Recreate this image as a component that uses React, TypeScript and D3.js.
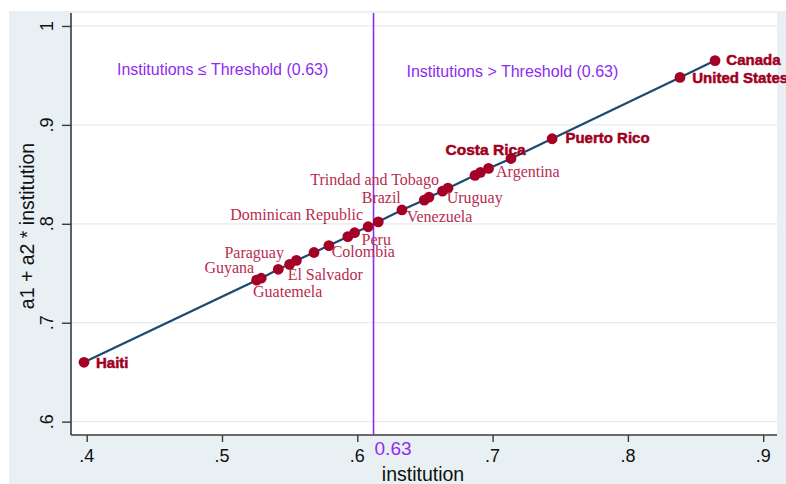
import { useEffect, useRef } from 'react'
import * as d3 from 'd3'

// Countries (empty name = unlabelled point)
const countries = [
  'Haiti', 'Guatemela', 'Guyana', 'Paraguay', 'El Salvador', '', 'Colombia', '', '',
  'Peru', 'Dominican Republic', 'Brazil', 'Venezuela', 'Trindad and Tobago', '',
  'Uruguay', '', '', '', 'Argentina', 'Costa Rica', 'Puerto Rico', 'United States', 'Canada',
]
const institution = [
  0.398, 0.5256, 0.529, 0.5416, 0.55, 0.555, 0.568, 0.579, 0.593,
  0.598, 0.608, 0.6155, 0.633, 0.6495, 0.653,
  0.663, 0.667, 0.687, 0.691, 0.697, 0.7136, 0.744, 0.8385, 0.8644,
]
const fitted = [
  0.66, 0.743, 0.745, 0.754, 0.759, 0.763, 0.771, 0.778, 0.787,
  0.791, 0.797, 0.802, 0.814, 0.824, 0.827,
  0.833, 0.836, 0.849, 0.852, 0.856, 0.866, 0.886, 0.948, 0.965,
]
const xTicks = [0.4, 0.5, 0.6, 0.7, 0.8, 0.9]
const yTicks = [0.6, 0.7, 0.8, 0.9, 1]
const thresholdPos = 0.612
const thresholdLabel = '0.63'

// bold sans labels (the others are serif)
const boldLabels = ['Haiti', 'Costa Rica', 'Puerto Rico', 'United States', 'Canada']

// label placement relative to its point: [dx, dy, anchor]
const labelPlace: Record<string, [number, number, string]> = {
  Haiti: [12, 5.5, 'start'],
  Guatemela: [-3.6, 17, 'start'],
  Guyana: [-7, -5, 'end'],
  Paraguay: [5.7, -11, 'end'],
  'El Salvador': [-2, 15.6, 'start'],
  Colombia: [17.7, 4.5, 'start'],
  Peru: [7, 12.3, 'start'],
  'Dominican Republic': [-5, -7, 'end'],
  Brazil: [3, -19, 'middle'],
  Venezuela: [4.7, 11.7, 'start'],
  'Trindad and Tobago': [14.7, -15, 'end'],
  Uruguay: [4.2, 12, 'start'],
  Argentina: [7.5, 8.3, 'start'],
  'Costa Rica': [14.7, -3.5, 'end'],
  'Puerto Rico': [13.3, 4.3, 'start'],
  'United States': [12.3, 5.6, 'start'],
  Canada: [11.3, 4.4, 'start'],
}

const W = 786
const H = 484
const sans = 'Arial, "Liberation Sans", Helvetica, sans-serif'
const serif = '"Liberation Serif", "Times New Roman", serif'
const purple = '#8e2cf0'

export default function App() {
  const svgRef = useRef<SVGSVGElement>(null)

  useEffect(() => {
    if (!svgRef.current) return
    const svg = d3.select(svgRef.current)
    svg.selectAll('*').remove()

    const plot = { left: 71, right: 777, top: 13, bottom: 435 }

    const x = d3.scaleLinear().domain([0.3884, 0.9102]).range([plot.left, plot.right])
    const y = d3.scaleLinear().domain([0.5865, 1.0131]).range([plot.bottom, plot.top])

    // Backgrounds
    svg.append('rect').attr('width', W).attr('height', H).attr('fill', '#ffffff')
    svg.append('rect').attr('x', 9).attr('y', 11).attr('width', W - 9).attr('height', H - 11).attr('fill', '#e8f0f3')
    svg
      .append('rect')
      .attr('x', plot.left)
      .attr('y', plot.top)
      .attr('width', plot.right - plot.left)
      .attr('height', plot.bottom - plot.top)
      .attr('fill', '#ffffff')

    // Grid lines
    svg
      .append('g')
      .selectAll('line')
      .data(yTicks)
      .enter()
      .append('line')
      .attr('x1', plot.left)
      .attr('x2', plot.right)
      .attr('y1', (d) => y(d))
      .attr('y2', (d) => y(d))
      .attr('stroke', '#e3ecef')
      .attr('stroke-width', 1.2)

    // Axes
    const yAxis = svg
      .append('g')
      .attr('transform', `translate(${plot.left},0)`)
      .call(d3.axisLeft(y).tickValues(yTicks).tickSize(9).tickFormat(() => ''))
    yAxis.select('.domain').attr('d', `M0,${plot.top}V${plot.bottom}`).attr('stroke', '#3a3a3a').attr('stroke-width', 1.6)
    yAxis.selectAll('.tick line').attr('stroke', '#3a3a3a').attr('stroke-width', 1.4)

    const xAxis = svg
      .append('g')
      .attr('transform', `translate(0,${plot.bottom})`)
      .call(d3.axisBottom(x).tickValues(xTicks).tickSize(7).tickFormat(() => ''))
    xAxis.select('.domain').attr('d', `M${plot.left},0H${plot.right}`).attr('stroke', '#3a3a3a').attr('stroke-width', 1.6)
    xAxis.selectAll('.tick line').attr('stroke', '#3a3a3a').attr('stroke-width', 1.4)

    const fmt = (d: number) => (d === 1 ? '1' : d3.format('.1f')(d).replace(/^0/, ''))

    // Tick labels
    svg
      .append('g')
      .selectAll('text')
      .data(xTicks)
      .enter()
      .append('text')
      .attr('x', (d) => x(d))
      .attr('y', 462)
      .attr('text-anchor', 'middle')
      .attr('font-family', sans)
      .attr('font-size', '18px')
      .attr('fill', '#111')
      .text(fmt)

    svg
      .append('g')
      .selectAll('text')
      .data(yTicks)
      .enter()
      .append('text')
      .attr('transform', (d) => `translate(53,${y(d)}) rotate(-90)`)
      .attr('text-anchor', 'middle')
      .attr('font-family', sans)
      .attr('font-size', '18px')
      .attr('fill', '#111')
      .text(fmt)

    // Axis titles
    svg
      .append('text')
      .attr('x', 423)
      .attr('y', 481)
      .attr('text-anchor', 'middle')
      .attr('font-family', sans)
      .attr('font-size', '19.5px')
      .attr('fill', '#111')
      .text('institution')

    svg
      .append('text')
      .attr('transform', `translate(33.5,226) rotate(-90)`)
      .attr('text-anchor', 'middle')
      .attr('font-family', sans)
      .attr('font-size', '19.5px')
      .attr('fill', '#111')
      .text('a1 + a2 * institution')

    // Threshold line
    svg
      .append('line')
      .attr('x1', x(thresholdPos))
      .attr('x2', x(thresholdPos))
      .attr('y1', plot.top)
      .attr('y2', plot.bottom)
      .attr('stroke', purple)
      .attr('stroke-width', 1.6)

    svg
      .append('text')
      .attr('x', x(thresholdPos) + 1)
      .attr('y', 455)
      .attr('font-family', sans)
      .attr('font-size', '19px')
      .attr('fill', purple)
      .text(thresholdLabel)

    svg
      .append('text')
      .attr('x', 117)
      .attr('y', 75)
      .attr('font-family', sans)
      .attr('font-size', '16px')
      .attr('fill', purple)
      .text(`Institutions ≤ Threshold (${thresholdLabel})`)

    svg
      .append('text')
      .attr('x', 406.5)
      .attr('y', 77)
      .attr('font-family', sans)
      .attr('font-size', '16px')
      .attr('fill', purple)
      .text(`Institutions > Threshold (${thresholdLabel})`)

    // Fitted line
    const pts = institution.map((v, i) => ({ name: countries[i], x: v, y: fitted[i] }))
    const line = d3
      .line<{ x: number; y: number }>()
      .x((d) => x(d.x))
      .y((d) => y(d.y))
    svg
      .append('path')
      .datum(pts)
      .attr('d', line)
      .attr('fill', 'none')
      .attr('stroke', '#1a4a72')
      .attr('stroke-width', 2.2)

    // Markers
    svg
      .append('g')
      .selectAll('circle')
      .data(pts)
      .enter()
      .append('circle')
      .attr('cx', (d) => x(d.x))
      .attr('cy', (d) => y(d.y))
      .attr('r', 5.4)
      .attr('fill', '#a50026')

    // Labels
    const labelled = pts.filter((d) => d.name !== '')
    svg
      .append('g')
      .selectAll('text')
      .data(labelled)
      .enter()
      .append('text')
      .attr('x', (d) => x(d.x) + labelPlace[d.name][0])
      .attr('y', (d) => y(d.y) + labelPlace[d.name][1])
      .attr('text-anchor', (d) => labelPlace[d.name][2])
      .each(function (d) {
        const t = d3.select(this)
        if (boldLabels.includes(d.name)) {
          t.attr('font-family', sans)
            .attr('font-weight', 'bold')
            .attr('font-size', d.name === 'Costa Rica' ? '15.5px' : '15px')
            .attr('fill', '#a0001e')
            .attr('stroke', '#a0001e')
            .attr('stroke-width', 0.5)
        } else {
          t.attr('font-family', serif)
            .attr('font-size', '16px')
            .attr('fill', '#b72d4f')
        }
      })
      .text((d) => d.name)
  }, [])

  return (
    <svg
      ref={svgRef}
      width={W}
      height={H}
      style={{ position: 'absolute', left: 0, top: 0, display: 'block' }}
    />
  )
}
